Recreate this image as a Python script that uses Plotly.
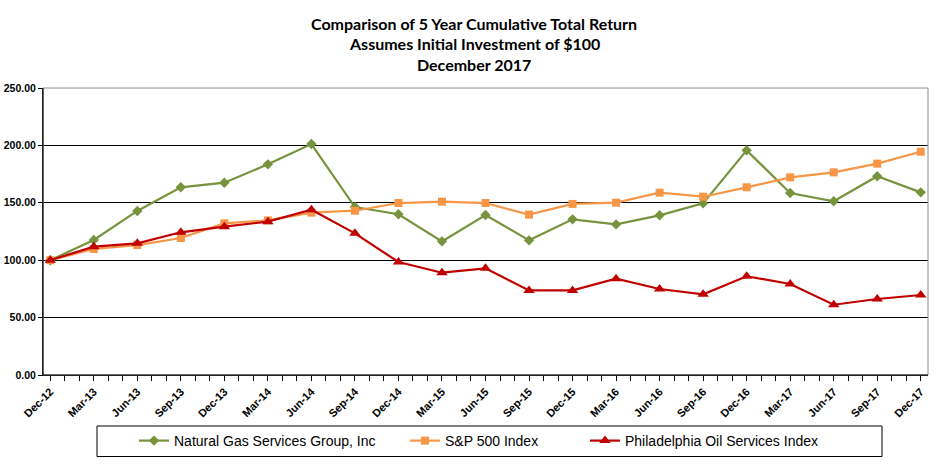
import plotly.graph_objects as go

months = ["Dec-12", "Mar-13", "Jun-13", "Sep-13", "Dec-13", "Mar-14", "Jun-14",
          "Sep-14", "Dec-14", "Mar-15", "Jun-15", "Sep-15", "Dec-15", "Mar-16",
          "Jun-16", "Sep-16", "Dec-16", "Mar-17", "Jun-17", "Sep-17", "Dec-17"]
month_index = [0, 3, 6, 9, 12, 15, 18, 21, 24, 27, 30, 33, 36, 39, 42, 45, 48, 51, 54, 57, 60]

ngs = [100.0, 117.6, 142.9, 163.5, 167.5, 183.5, 201.2, 146.3, 140.0, 116.4, 139.4,
       117.3, 135.6, 131.2, 139.1, 149.5, 195.7, 158.5, 151.3, 173.1, 159.1]
sp500 = [100.0, 109.8, 113.2, 119.3, 132.1, 134.7, 141.4, 143.1, 149.8, 151.0, 149.8,
         139.7, 149.0, 150.1, 158.8, 155.3, 163.5, 172.2, 176.5, 184.1, 194.5]
osx = [100.0, 111.8, 114.7, 124.3, 129.2, 133.6, 144.0, 123.4, 98.4, 89.1, 92.9,
       73.7, 73.7, 83.9, 74.9, 70.3, 86.0, 79.3, 61.2, 66.2, 69.7]

y_ticks = [0, 50, 100, 150, 200, 250]
y_labels = ["0.00", "50.00", "100.00", "150.00", "200.00", "250.00"]

title_lines = ["Comparison of 5 Year Cumulative Total Return",
               "Assumes Initial Investment of $100",
               "December 2017"]

names = ["Natural Gas Services Group, Inc", "S&P 500 Index", "Philadelphia Oil Services Index"]
colors = ["#77933C", "#F79646", "#C00000"]
symbols = ["diamond", "square", "triangle-up"]
sizes = [8, 8, 10]
series = [ngs, sp500, osx]
legends = ["legend", "legend2", "legend3"]

L, R, T, B = 43, 8, 88, 90
W, H = 936, 465
PW, PH = W - L - R, H - T - B


def px_x(px):
    return (px - L) / PW


def px_y(py):
    return (H - B - py) / PH


fig = go.Figure()
for name, vals, col, sym, sz, lg in zip(names, series, colors, symbols, sizes, legends):
    fig.add_trace(go.Scatter(
        x=month_index, y=vals, name=name, mode="lines+markers",
        line=dict(color=col, width=2.2),
        marker=dict(symbol=sym, size=sz, color=col),
        legend=lg, showlegend=True,
    ))

legend_font = dict(family="Liberation Sans Narrow, Arial Narrow, Liberation Sans", size=14, color="#000000")
common_legend = dict(orientation="h", xanchor="left", yanchor="middle", yref="paper",
                     xref="paper", bgcolor="rgba(0,0,0,0)", font=legend_font,
                     itemwidth=30)

annotations = []
for i, line in enumerate(title_lines):
    annotations.append(dict(
        text=line, xref="paper", yref="paper", x=px_x(474), y=px_y(23 + 20.5 * i),
        xanchor="center", yanchor="middle", showarrow=False,
        font=dict(family="Lato, Open Sans, sans-serif", size=16, color="#000000", weight="bold"),
    ))

fig.update_layout(
    width=W, height=H,
    margin=dict(l=L, r=R, t=T, b=B, autoexpand=False),
    paper_bgcolor="white", plot_bgcolor="white",
    showlegend=True,
    annotations=annotations,
    xaxis=dict(
        range=[-0.5, 60.5], tickmode="array", tickvals=month_index, ticktext=months,
        tickangle=-45, ticks="outside", ticklen=5, tickcolor="#000000",
        tickfont=dict(family="Liberation Sans, Arial", size=11, color="#000000", weight="bold"),
        showgrid=False, zeroline=False, showline=True, linecolor="#000000", linewidth=1,
        minor=dict(tickmode="linear", tick0=0, dtick=1, ticks="outside", ticklen=5, tickcolor="#000000", showgrid=False),
    ),
    yaxis=dict(
        range=[0, 250], tickmode="array", tickvals=y_ticks, ticktext=y_labels,
        ticks="outside", ticklen=4, tickcolor="#000000",
        tickfont=dict(family="Liberation Sans, Arial", size=10.5, color="#000000", weight="bold"),
        showgrid=True, gridcolor="#000000", gridwidth=1, zeroline=False,
        showline=True, linecolor="#000000", linewidth=1,
    ),
    legend=dict(common_legend, x=px_x(134), y=px_y(441)),
    legend2=dict(common_legend, x=px_x(405), y=px_y(441)),
    legend3=dict(common_legend, x=px_x(585), y=px_y(441)),
    shapes=[
        dict(type="rect", xref="paper", yref="paper", x0=0, x1=1, y0=0, y1=1,
             line=dict(color="#8C8C8C", width=1), layer="above"),
        dict(type="line", xref="paper", yref="paper", x0=0, x1=0, y0=0, y1=1,
             line=dict(color="#000000", width=1), layer="above"),
        dict(type="line", xref="paper", yref="paper", x0=0, x1=1, y0=0, y1=0,
             line=dict(color="#000000", width=1), layer="above"),
        dict(type="rect", xref="paper", yref="paper",
             x0=px_x(97), x1=px_x(882),
             y0=px_y(456.5), y1=px_y(426),
             line=dict(color="#000000", width=1), fillcolor="rgba(0,0,0,0)", layer="below"),
    ],
)

fig.write_html("out.html", config={"displayModeBar": False},
               post_script="document.body.style.margin='0';document.body.style.overflow='hidden';")
